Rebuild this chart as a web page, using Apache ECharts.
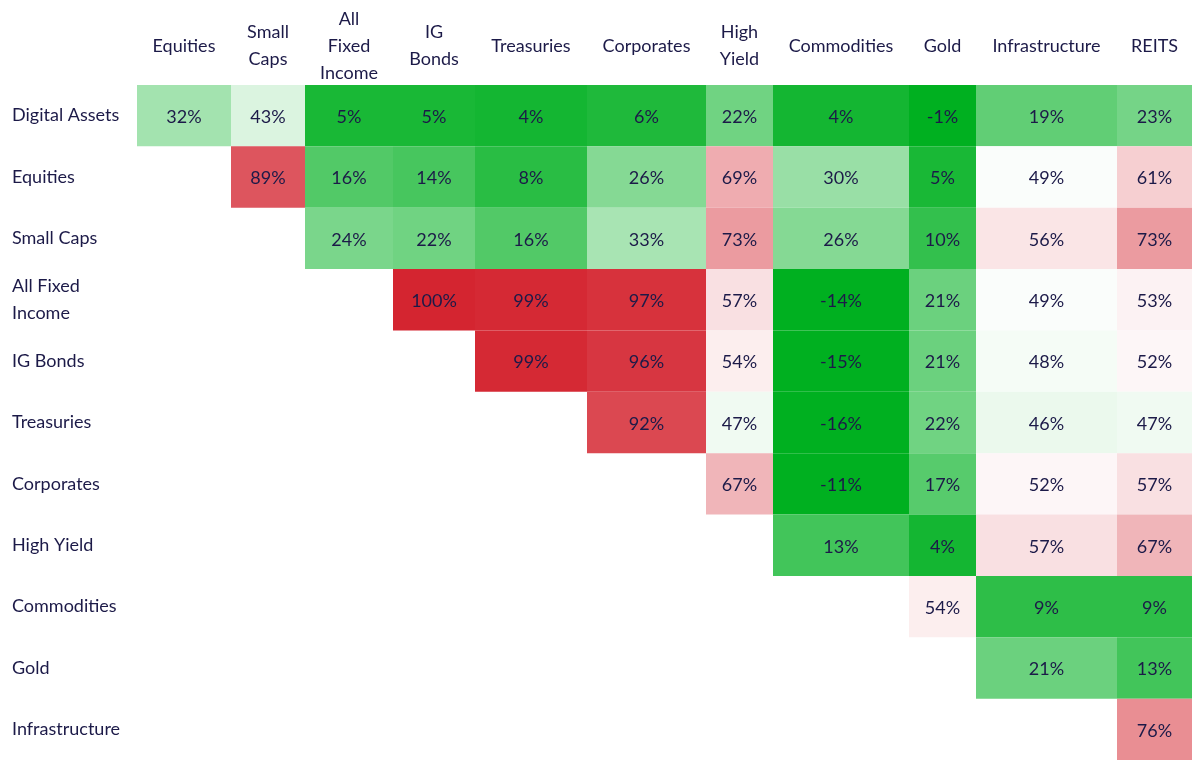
<!DOCTYPE html>
<html><head><meta charset="utf-8">
<script src="https://cdn.jsdelivr.net/npm/echarts@6/dist/echarts.min.js"></script>
<style>html,body{margin:0;padding:0;background:#fff}#chart{width:1200px;height:761px}</style>
</head><body><div id="chart"></div>
<script>
// ---- data ----
const rowLabels = ['Digital Assets','Equities','Small Caps','All Fixed\nIncome','IG Bonds','Treasuries','Corporates','High Yield','Commodities','Gold','Infrastructure'];
const colLabels = ['Equities','Small\nCaps','All\nFixed\nIncome','IG\nBonds','Treasuries','Corporates','High\nYield','Commodities','Gold','Infrastructure','REITS'];
// each row lists correlations (%) starting at its own column (upper triangle)
const digitalAssets  = [32, 43, 5, 5, 4, 6, 22, 4, -1, 19, 23];
const equities       = [89, 16, 14, 8, 26, 69, 30, 5, 49, 61];
const smallCaps      = [24, 22, 16, 33, 73, 26, 10, 56, 73];
const allFixedIncome = [100, 99, 97, 57, -14, 21, 49, 53];
const igBonds        = [99, 96, 54, -15, 21, 48, 52];
const treasuries     = [92, 47, -16, 22, 46, 47];
const corporates     = [67, -11, 17, 52, 57];
const highYield      = [13, 4, 57, 67];
const commodities    = [54, 9, 9];
const gold           = [21, 13];
const infrastructure = [76];
const rowValues = [digitalAssets, equities, smallCaps, allFixedIncome, igBonds, treasuries, corporates, highYield, commodities, gold, infrastructure];

// ---- layout (column widths, px) ----
const colWidths = [94, 74, 88, 82, 112, 119, 67, 136, 67, 141, 75];
const edges = [0];
colWidths.forEach(w => edges.push(edges[edges.length - 1] + w));
const centers = colWidths.map((w, i) => edges[i] + w / 2);
const total = edges[edges.length - 1];

const cells = [];
rowValues.forEach((vals, r) => vals.forEach((v, k) => cells.push([centers[r + k], r, v, r + k])));

const textColor = '#1c1a48';
const fontFamily = 'Lato, "Noto Sans", sans-serif';
const fontSize = 18;

const chart = echarts.init(document.getElementById('chart'));
chart.setOption({
  animation: false,
  grid: { left: 137, right: 8, top: 85, bottom: 1, containLabel: false },
  visualMap: {
    type: 'continuous', show: false, dimension: 2, seriesIndex: 0,
    min: -50, max: 100,
    inRange: { color: ['#00b020', '#00b020', '#ffffff', '#d42530'] }
  },
  xAxis: {
    type: 'value', position: 'top', min: 0, max: total,
    axisLine: { show: false }, axisTick: { show: false }, splitLine: { show: false },
    axisLabel: {
      customValues: centers,
      formatter: v => { const i = centers.findIndex(c => Math.abs(c - v) < 1e-6); return i >= 0 ? colLabels[i] : ''; },
      verticalAlign: 'middle', margin: 39, lineHeight: 27, fontSize: fontSize,
      color: textColor, fontFamily: fontFamily
    }
  },
  yAxis: {
    type: 'category', inverse: true, data: rowLabels,
    axisLine: { show: false }, axisTick: { show: false }, splitLine: { show: false },
    axisLabel: { align: 'left', margin: 125, fontSize: fontSize, lineHeight: 27, padding: [3, 0, 0, 0], color: textColor, fontFamily: fontFamily }
  },
  series: [{
    type: 'custom',
    encode: { x: 0, y: 1 },
    data: cells,
    renderItem: function (params, api) {
      const c = api.value(3), r = api.value(1), v = api.value(2);
      const p0 = api.coord([edges[c], r]);
      const p1 = api.coord([edges[c + 1], r]);
      const h = api.size([0, 1])[1];
      return {
        type: 'rect',
        shape: { x: p0[0], y: p0[1] - h / 2, width: p1[0] - p0[0], height: h },
        style: { fill: api.visual('color') },
        textContent: { style: { text: v + '%', fill: textColor, fontSize: fontSize, fontFamily: fontFamily } },
        textConfig: { position: 'inside', offset: [0, 1.5] }
      };
    }
  }]
});
</script></body></html>
